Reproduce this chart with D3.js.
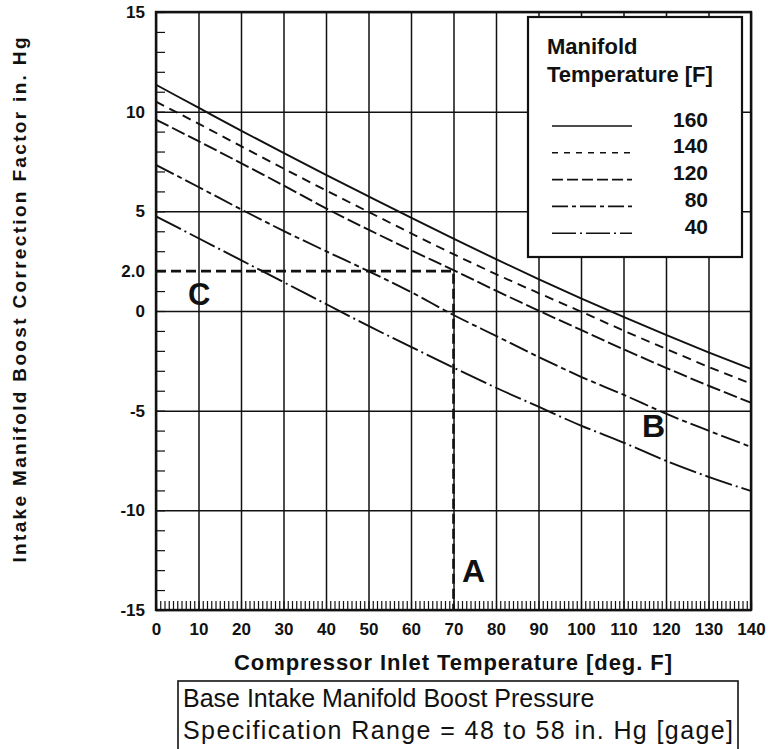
<!DOCTYPE html>
<html>
<head>
<meta charset="utf-8">
<script src="https://cdn.jsdelivr.net/npm/d3@7"></script>
<style>
  html, body { margin: 0; padding: 0; background: #fff; }
  svg { display: block; }
  text { font-family: "Liberation Sans", Arial, Helvetica, sans-serif; fill: #111; }
</style>
</head>
<body>
<svg id="chart" width="768" height="749"></svg>
<script>
// ---- Data ----
const inletTemps = [0, 10, 20, 30, 40, 50, 60, 70, 80, 90, 100, 110, 120, 130, 140];
const correction160 = [11.35, 10.2, 9.05, 7.93, 6.83, 5.75, 4.68, 3.63, 2.6, 1.6, 0.63, -0.3, -1.2, -2.07, -2.9];
const correction140 = [10.5, 9.4, 8.27, 7.15, 6.05, 4.97, 3.9, 2.85, 1.85, 0.9, -0.03, -0.98, -1.9, -2.8, -3.65];
const correction120 = [9.6, 8.52, 7.42, 6.3, 5.15, 4.08, 3.05, 2.05, 1.02, 0.02, -0.95, -1.92, -2.85, -3.75, -4.6];
const correction80  = [7.33, 6.22, 5.1, 4.02, 3.0, 2.0, 0.95, -0.2, -1.25, -2.3, -3.3, -4.2, -5.15, -6.0, -6.82];
const correction40  = [4.75, 3.65, 2.55, 1.45, 0.35, -0.75, -1.8, -2.84, -3.85, -4.8, -5.75, -6.6, -7.52, -8.32, -9.03];
const manifoldTemps = ["160", "140", "120", "80", "40"];
const xTickValues = [0, 10, 20, 30, 40, 50, 60, 70, 80, 90, 100, 110, 120, 130, 140];
const yTickValues = [15, 10, 5, 2, 0, -5, -10, -15];
const yTickLabels = ["15", "10", "5", "2.0", "0", "-5", "-10", "-15"];
const exampleInlet = 70;      // point A
const exampleCorrection = 2;  // point C

const seriesData = [correction160, correction140, correction120, correction80, correction40];
const dashStyles = ["none", "9,6", "14,4", "20,4,5,4", "28,4,2,4"];
const legendDash = ["none", "6,6", "11,4", "16,4,4,4", "24,4,2,4"];

// ---- Layout ----
const svg = d3.select("#chart");
const x = d3.scaleLinear().domain([0, 140]).range([156, 751]);
const y = d3.scaleLinear().domain([-15, 15]).range([610, 12]);
const plotW = x(140) - x(0), plotH = y(-15) - y(15);

const FONT = '"Liberation Sans", Arial, Helvetica, sans-serif';

// ---- Grid ----
const gridV = svg.append("g").attr("transform", `translate(0,${y(-15)})`)
  .call(d3.axisBottom(x).tickValues(xTickValues).tickSize(-plotH).tickFormat(""));
gridV.selectAll("line").attr("stroke", "#111").attr("stroke-width", 1.5);
gridV.select(".domain").remove();

const gridH = svg.append("g").attr("transform", `translate(${x(0)},0)`)
  .call(d3.axisLeft(y).tickValues(d3.range(-15, 16, 5)).tickSize(-plotW).tickFormat(""));
gridH.selectAll("line").attr("stroke", "#111").attr("stroke-width", 1.5);
gridH.select(".domain").remove();

// minor ticks (inward)
const minorX = svg.append("g").attr("transform", `translate(0,${y(-15)})`)
  .call(d3.axisBottom(x).tickValues(d3.range(0, 141, 1)).tickSize(-9).tickFormat(""));
minorX.selectAll("line").attr("stroke", "#111").attr("stroke-width", 1.2);
minorX.select(".domain").remove();

const minorY = svg.append("g").attr("transform", `translate(${x(0)},0)`)
  .call(d3.axisLeft(y).tickValues(d3.range(-15, 16, 1)).tickSize(-9).tickFormat(""));
minorY.selectAll("line").attr("stroke", "#111").attr("stroke-width", 1.2);
minorY.select(".domain").remove();

// ---- Tick labels ----
const xLab = svg.append("g").attr("transform", `translate(0,${y(-15)})`)
  .call(d3.axisBottom(x).tickValues(xTickValues).tickSize(0).tickPadding(13).tickFormat(d => String(d)));
xLab.select(".domain").remove();
xLab.selectAll("text").style("font-family", FONT).style("font-size", "17px").style("font-weight", "bold").attr("fill", "#111");

const yLab = svg.append("g").attr("transform", `translate(${x(0)},0)`)
  .call(d3.axisLeft(y).tickValues(yTickValues).tickSize(0).tickPadding(11)
    .tickFormat((d, i) => yTickLabels[i]));
yLab.select(".domain").remove();
yLab.selectAll("text").style("font-family", FONT).style("font-size", "17px").style("font-weight", "bold").attr("fill", "#111");

// ---- Curves ----
const line = d3.line().x((d, i) => x(inletTemps[i])).y(d => y(d)).curve(d3.curveMonotoneX);
svg.append("g").selectAll("path").data(seriesData).join("path")
  .attr("d", d => line(d))
  .attr("fill", "none")
  .attr("stroke", "#111")
  .attr("stroke-width", 1.9)
  .attr("stroke-dasharray", (d, i) => dashStyles[i]);

// ---- Example path C -> A ----
svg.append("path")
  .attr("d", d3.line()([[x(0), y(exampleCorrection)], [x(exampleInlet), y(exampleCorrection)], [x(exampleInlet), y(-15)]]))
  .attr("fill", "none").attr("stroke", "#111").attr("stroke-width", 2.6)
  .attr("stroke-dasharray", "10,5");

// ---- Frame ----
svg.append("rect").attr("x", x(0)).attr("y", y(15)).attr("width", plotW).attr("height", plotH)
  .attr("fill", "none").attr("stroke", "#111").attr("stroke-width", 2.4);

// ---- Legend ----
const lg = svg.append("g");
lg.append("rect").attr("x", 528).attr("y", 17).attr("width", 214).attr("height", 240)
  .attr("fill", "#fff").attr("stroke", "#111").attr("stroke-width", 2.2);
lg.append("text").attr("x", 547).attr("y", 54).text("Manifold")
  .style("font-size", "22px").style("font-weight", "bold");
lg.append("text").attr("x", 547).attr("y", 82).text("Temperature [F]")
  .style("font-size", "22px").style("font-weight", "bold");
manifoldTemps.forEach((t, i) => {
  const ly = 126 + i * 26.8;
  lg.append("line").attr("x1", 552).attr("x2", 632).attr("y1", ly).attr("y2", ly)
    .attr("stroke", "#111").attr("stroke-width", 1.6).attr("stroke-dasharray", legendDash[i]);
  lg.append("text").attr("x", 708).attr("y", ly + 0.5).attr("text-anchor", "end").text(t)
    .style("font-size", "21px").style("font-weight", "bold");
});

// ---- Point letters ----
svg.append("text").attr("x", 188).attr("y", 305).text("C").style("font-size", "31px").style("font-weight", "bold");
svg.append("text").attr("x", 462).attr("y", 582).text("A").style("font-size", "32px").style("font-weight", "bold");
svg.append("text").attr("x", 642).attr("y", 437).text("B").style("font-size", "32px").style("font-weight", "bold");

// ---- Axis titles ----
svg.append("text").attr("x", 453).attr("y", 670).attr("text-anchor", "middle")
  .attr("textLength", 438).attr("lengthAdjust", "spacing")
  .text("Compressor Inlet Temperature [deg. F]")
  .style("font-size", "22px").style("font-weight", "bold");

svg.append("text").attr("transform", "translate(26,300) rotate(-90)").attr("text-anchor", "middle")
  .attr("textLength", 525).attr("lengthAdjust", "spacing")
  .text("Intake Manifold Boost Correction Factor in.  Hg")
  .style("font-size", "19px").style("font-weight", "bold");

// ---- Specification box ----
svg.append("rect").attr("x", 178).attr("y", 681).attr("width", 560).attr("height", 90)
  .attr("fill", "none").attr("stroke", "#111").attr("stroke-width", 1.6);
svg.append("text").attr("x", 183).attr("y", 707).text("Base Intake Manifold Boost Pressure")
  .style("font-size", "25px");
svg.append("text").attr("x", 183).attr("y", 739)
  .attr("textLength", 550).attr("lengthAdjust", "spacing")
  .text("Specification Range = 48 to 58 in. Hg [gage]")
  .style("font-size", "25px");
</script>
</body>
</html>
